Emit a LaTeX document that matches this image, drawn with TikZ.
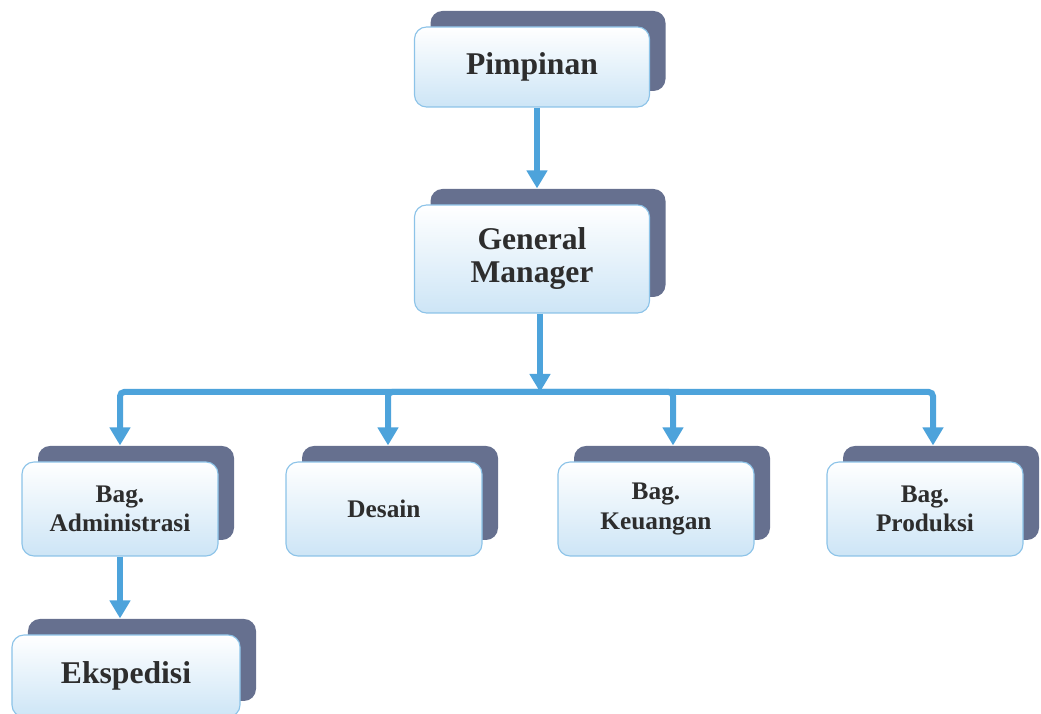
\documentclass[tikz,border=0pt]{standalone}
\usepackage{fontspec}
\setmainfont{Liberation Serif}
\usepackage{tikz}
\usetikzlibrary{arrows.meta,positioning,shadows}

\definecolor{linkblue}{RGB}{77,163,219}
\definecolor{boxblue}{RGB}{205,229,246}
\definecolor{boxline}{RGB}{140,195,232}
\definecolor{backslate}{RGB}{102,112,143}
\definecolor{inktext}{RGB}{45,45,45}

\begin{document}
\begin{tikzpicture}[
    unit/.style={draw=boxline, line width=0.8pt, rounded corners=0.3cm, top color=white, bottom color=boxblue, align=center, text=inktext,
        general shadow={shadow xshift=0.4cm, shadow yshift=0.4cm, fill=backslate}},
    big/.style={unit, minimum width=5.875cm, font=\fontsize{22.5}{23.5}\selectfont\bfseries},
    small/.style={unit, minimum width=4.9cm, minimum height=2.35cm, font=\fontsize{18}{21}\selectfont\bfseries},
    arrow/.style={-{Triangle[width=0.5cm, length=0.45cm]}, line width=0.15cm, draw=linkblue, rounded corners=3pt}
]
\useasboundingbox (0,0) rectangle (26.025,17.85);

% Top
\node[big, minimum height=2.0cm] (pimpinan) at (13.3, 16.175) {Pimpinan};
\node[big, minimum height=2.7cm] (gm) at (13.3, 11.375) {General\\Manager};

% Departments
\node[small] (admin) at (3.0, 5.125) {Bag.\\Administrasi};
\node[small] (desain) at (9.6, 5.125) {Desain};
\node[small] (keuangan) at (16.4, 5.125) {Bag.\\Keuangan};
\node[small] (produksi) at (23.125, 5.125) {Bag.\\Produksi};

% Sub unit
\node[big, minimum width=5.7cm, minimum height=2.05cm] (ekspedisi) at (3.15, 0.95) {Ekspedisi};

% Arrows
\coordinate (bus) at (13.5, 8.05);

\draw[arrow] ([xshift=0.125cm]pimpinan.south) -- ([xshift=0.125cm, yshift=0.4cm]gm.north);
\draw[arrow] (gm.south -| bus) -- (bus);

\draw[arrow] (bus) -| ([yshift=0.4cm]admin.north);
\draw[arrow] (bus) -| ([xshift=0.1cm, yshift=0.4cm]desain.north);
\draw[arrow] (bus) -| ([xshift=0.425cm, yshift=0.4cm]keuangan.north);
\draw[arrow] (bus) -| ([xshift=0.2cm, yshift=0.4cm]produksi.north);

\draw[arrow] (admin.south) -- ([yshift=0.4cm]admin.south |- ekspedisi.north);

\end{tikzpicture}
\end{document}
